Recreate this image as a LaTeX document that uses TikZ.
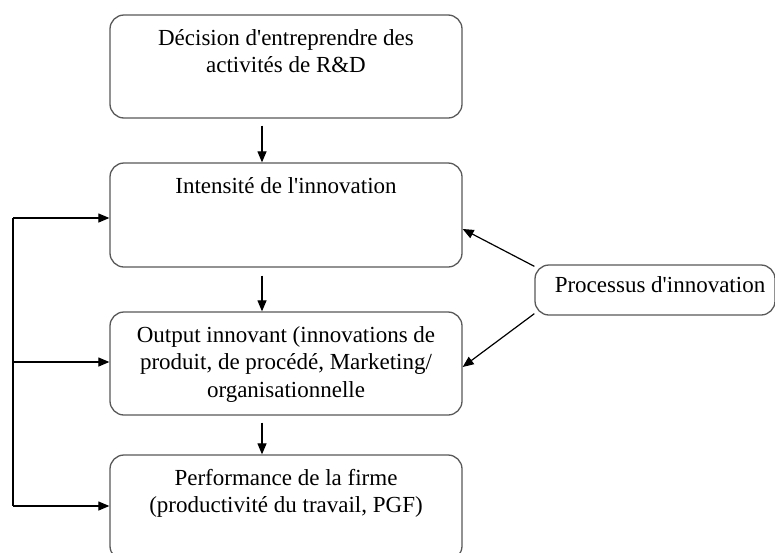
\documentclass[tikz,border=0pt]{standalone}
\usepackage{fontspec}
\setmainfont{Liberation Serif}
\usetikzlibrary{arrows.meta}
\newcommand{\apo}{\textquotesingle}
\begin{document}
\begin{tikzpicture}[x=1pt,y=-1pt,
  box/.style={draw=black!65,line width=1.3pt,rounded corners=14pt,inner sep=0pt,minimum width=352pt},
  txt/.style={align=center,inner sep=0pt,font=\fontsize{23}{27.5}\selectfont},
  arr/.style={draw=black,line width=1.2pt,-{Triangle[length=11pt,width=9pt]}},
  ln/.style={draw=black,line width=1.2pt}]
\useasboundingbox (0,0) rectangle (775,552);
\fill[white] (0,0) rectangle (775,552);
% boxes
\node[box,minimum height=103pt] (b1) at (286,66.5) {};
\node[box,minimum height=104pt] (b2) at (286,215) {};
\node[box,minimum height=103pt] (b3) at (286,363.5) {};
\node[box,minimum height=105pt] (b4) at (286,507.5) {};
\node[box,minimum width=240pt,minimum height=50pt] (pr) at (655,290) {};
% texts
\node[txt,anchor=north] (t1) at (286,29) {Décision d\apo entreprendre des\\activités de R\&D};
\node[txt,anchor=north] (t2) at (286,177) {Intensité de l\apo innovation};
\node[txt,anchor=north] (t3) at (286,326) {Output innovant (innovations de\\produit, de procédé, Marketing/\\organisationnelle};
\node[txt,anchor=north] (t4) at (286,469) {Performance de la firme\\(productivité du travail, PGF)};
\node[txt,anchor=base] (tp) at (660,292) {Processus d\apo innovation};
% vertical arrows
\draw[arr] ([xshift=-24pt,yshift=-7pt]b1.south) -- ([xshift=-24pt]b2.north);
\draw[arr] ([xshift=-24pt,yshift=-8pt]b2.south) -- ([xshift=-24pt]b3.north);
\draw[arr] ([xshift=-24pt,yshift=-7pt]b3.south) -- ([xshift=-24pt]b4.north);
% feedback line
\coordinate (lt) at (13,218);
\coordinate (lm) at (13,362);
\coordinate (lb) at (13,506);
\draw[ln] (lt) -- (lb);
\draw[arr] (lt) -- (lt -| b2.west);
\draw[arr] (lm) -- (lm -| b3.west);
\draw[arr] (lb) -- (lb -| b4.west);
% process arrows
\draw[arr] ([yshift=-2pt]pr.north west) -- ([yshift=-14pt]b2.east);
\draw[arr] ([yshift=2pt]pr.south west) -- ([yshift=-3.5pt]b3.east);
\end{tikzpicture}
\end{document}
